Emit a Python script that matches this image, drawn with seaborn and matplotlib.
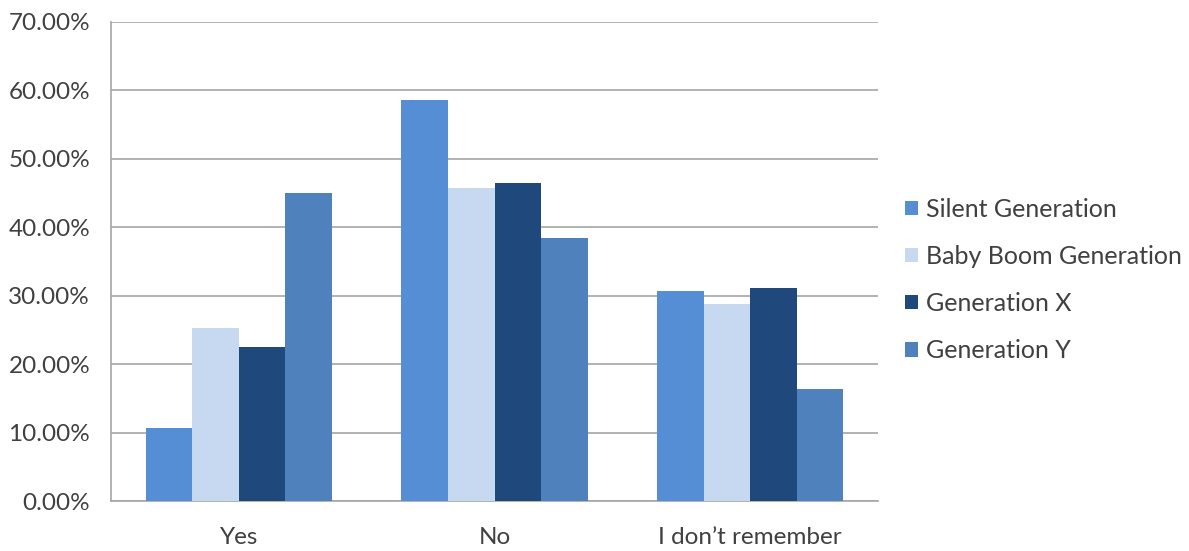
import matplotlib
matplotlib.use("Agg")
import matplotlib.pyplot as plt
import seaborn as sns
import pandas as pd
from matplotlib.patches import Patch
from matplotlib.ticker import FuncFormatter

categories = ["Yes", "No", "I don\u2019t remember"]
series_names = ["Silent Generation", "Baby Boom Generation", "Generation X", "Generation Y"]
silent = [10.6, 58.6, 30.7]
baby_boom = [25.3, 45.8, 28.8]
gen_x = [22.5, 46.4, 31.1]
gen_y = [45.0, 38.5, 16.4]
colors = ["#558ED5", "#C6D9F1", "#1F497D", "#4F81BD"]

rows = []
for name, vals in zip(series_names, [silent, baby_boom, gen_x, gen_y]):
    for c, v in zip(categories, vals):
        rows.append({"category": c, "series": name, "value": v})
df = pd.DataFrame(rows)

sns.set_theme(style="white")
plt.rcParams["font.family"] = ["Lato", "DejaVu Sans"]

fig = plt.figure(figsize=(11.89, 5.51), dpi=100)
ax = fig.add_axes([111 / 1189, 1 - 501 / 551, (878 - 111) / 1189, (501 - 22) / 551])

sns.barplot(data=df, x="category", y="value", hue="series", order=categories,
            hue_order=series_names, palette=colors, width=0.73, gap=0,
            errorbar=None, saturation=1, ax=ax, legend=False, zorder=3,
            linewidth=0)

ax.set_ylim(0, 70)
ax.set_yticks(range(0, 71, 10))
ax.yaxis.set_major_formatter(FuncFormatter(lambda v, p: f"{v:.2f}%"))
ax.set_xlim(-0.5, 2.5)
ax.grid(axis="y", color="#A6A6A6", linewidth=1.2, zorder=0)
ax.set_axisbelow(True)
for s in ["top", "right"]:
    ax.spines[s].set_visible(False)
for s in ["left", "bottom"]:
    ax.spines[s].set_color("#A6A6A6")
    ax.spines[s].set_linewidth(1.2)
ax.tick_params(axis="both", length=0, labelsize=17.5, colors="#404040")
ax.tick_params(axis="y", pad=15)
ax.tick_params(axis="x", pad=19)
ax.set_xlabel("")
ax.set_ylabel("")

handles = [Patch(facecolor=c, edgecolor="none") for c in colors]
fig.legend(handles, series_names, loc="center left",
           bbox_to_anchor=(905 / 1189, 1 - 280 / 551), frameon=False,
           fontsize=18, labelcolor="#404040", handlelength=0.5, handleheight=0.5,
           handletextpad=0.35, labelspacing=0.97, borderaxespad=0, borderpad=0)

fig.savefig("out.png", dpi=100)
